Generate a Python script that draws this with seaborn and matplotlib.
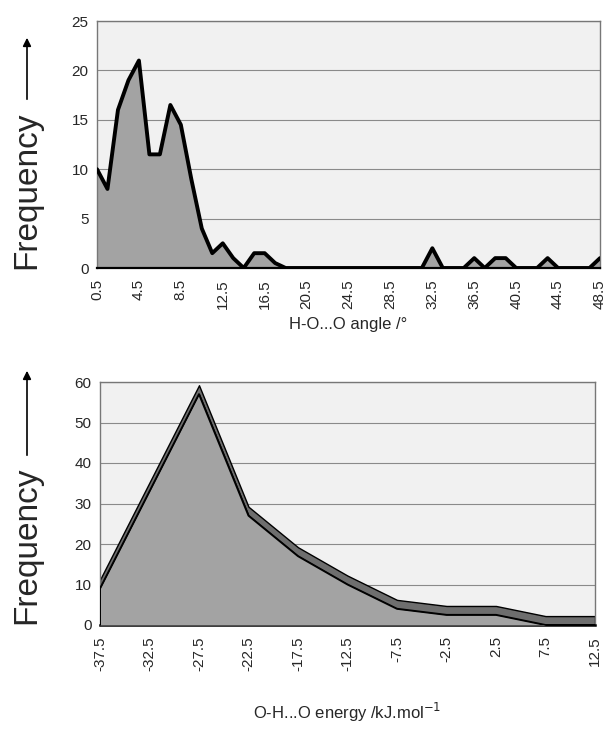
import numpy as np
import pandas as pd
import matplotlib
matplotlib.use("Agg")
import matplotlib.pyplot as plt
import seaborn as sns

# ---- data ----
angle_bins = [0.5 + i for i in range(49)]
angle_freq = [10, 8, 16, 19, 21, 11.5, 11.5, 16.5, 14.5, 9, 4, 1.5, 2.5, 1, 0,
              1.5, 1.5, 0.5, 0, 0, 0, 0, 0, 0, 0, 0, 0, 0, 0, 0, 0, 0,
              2, 0, 0, 0, 1, 0, 1, 1, 0, 0, 0, 1, 0, 0, 0, 0, 1]
angle_ticks = [0.5, 4.5, 8.5, 12.5, 16.5, 20.5, 24.5, 28.5, 32.5, 36.5, 40.5, 44.5, 48.5]
angle_yticks = [0, 5, 10, 15, 20, 25]

energy_bins = [-37.5, -32.5, -27.5, -22.5, -17.5, -12.5, -7.5, -2.5, 2.5, 7.5, 12.5]
energy_freq = [9, 33, 57, 27, 17, 10, 4, 2.5, 2.5, 0, 0]
energy_yticks = [0, 10, 20, 30, 40, 50, 60]

sns.set_style("white")
plt.rcParams['font.family'] = ['Liberation Sans', 'DejaVu Sans']

W, H = 607, 744
fig = plt.figure(figsize=(W / 100, H / 100), dpi=100)

def px_axes(l, t, r, b):
    return fig.add_axes([l / W, 1 - b / H, (r - l) / W, (b - t) / H])

wall = "#f1f1f1"
fillc = "#a3a3a3"
bandc = "#6e6e6e"

# ---- top chart ----
ax1 = px_axes(97, 21, 600, 268)
df1 = pd.DataFrame({"angle": angle_bins, "freq": angle_freq})
ax1.set_facecolor(wall)
for yv in angle_yticks[1:]:
    ax1.axhline(yv, color="#8a8a8a", lw=0.8, zorder=1)
ax1.fill_between(df1["angle"], 0, df1["freq"], color=fillc, zorder=2, lw=0)
sns.lineplot(data=df1, x="angle", y="freq", ax=ax1, color="black", lw=2.8, zorder=3)
ax1.set_xlim(0.5, 48.5)
ax1.set_ylim(0, 25)
ax1.set_yticks(angle_yticks)
ax1.set_xticks(angle_ticks)
ax1.set_xticks(angle_bins, minor=True)
ax1.set_xticklabels([f"{v:g}" for v in angle_ticks], rotation=90)
ax1.tick_params(axis="x", which="major", length=5, labelsize=11, pad=3, color="#555555")
ax1.tick_params(axis="x", which="minor", length=3, color="#777777")
ax1.tick_params(axis="y", length=0, labelsize=11, pad=6)
ax1.set_xlabel("H-O...O angle /°", fontsize=12, labelpad=6)
ax1.set_ylabel("")
for s in ax1.spines.values():
    s.set_color("#777777")
    s.set_linewidth(1)
ax1.spines["bottom"].set_color("black")
ax1.spines["bottom"].set_linewidth(1.6)

# ---- bottom chart ----
ax2 = px_axes(100, 382, 595, 625)
df2 = pd.DataFrame({"energy": energy_bins, "freq": energy_freq})
ax2.set_facecolor(wall)
for yv in energy_yticks[1:]:
    ax2.axhline(yv, color="#8a8a8a", lw=0.8, zorder=1)
ax2.fill_between(df2["energy"], df2["freq"], df2["freq"] + 2.2,
                 color=bandc, edgecolor="black", lw=1.0, zorder=2)
ax2.fill_between(df2["energy"], 0, df2["freq"], color=fillc, zorder=3, lw=0)
sns.lineplot(data=df2, x="energy", y="freq", ax=ax2, color="black", lw=1.4, zorder=4)
ax2.plot([energy_bins[0], energy_bins[0]], [0, energy_freq[0]], color="black", lw=1.4, zorder=4)
ax2.set_xlim(-37.5, 12.5)
ax2.set_ylim(0, 60)
ax2.set_yticks(energy_yticks)
ax2.set_xticks(energy_bins)
ax2.set_xticklabels([f"{v:g}" for v in energy_bins], rotation=90)
ax2.tick_params(axis="x", length=5, labelsize=11, pad=3, color="#555555")
ax2.tick_params(axis="y", length=0, labelsize=11, pad=6)
ax2.set_xlabel("O-H...O energy /kJ.mol$^{-1}$", fontsize=12, labelpad=22)
ax2.set_ylabel("")
for s in ax2.spines.values():
    s.set_color("#777777")
    s.set_linewidth(1)
ax2.spines["bottom"].set_color("black")
ax2.spines["bottom"].set_linewidth(1.8)

# ---- rotated "Frequency" labels with arrows ----
for (ytxt, yarrow0, yarrow1) in [(190, 102, 35), (545, 458, 368)]:
    fig.text(27 / W, 1 - ytxt / H, "Frequency", rotation=90, fontsize=24,
             ha="center", va="center")
    fig.add_artist(matplotlib.patches.FancyArrowPatch(
        (27 / W, 1 - yarrow0 / H), (27 / W, 1 - yarrow1 / H),
        transform=fig.transFigure, arrowstyle="-|>", mutation_scale=12,
        color="black", lw=1.2))

fig.savefig("out.png", dpi=100)
